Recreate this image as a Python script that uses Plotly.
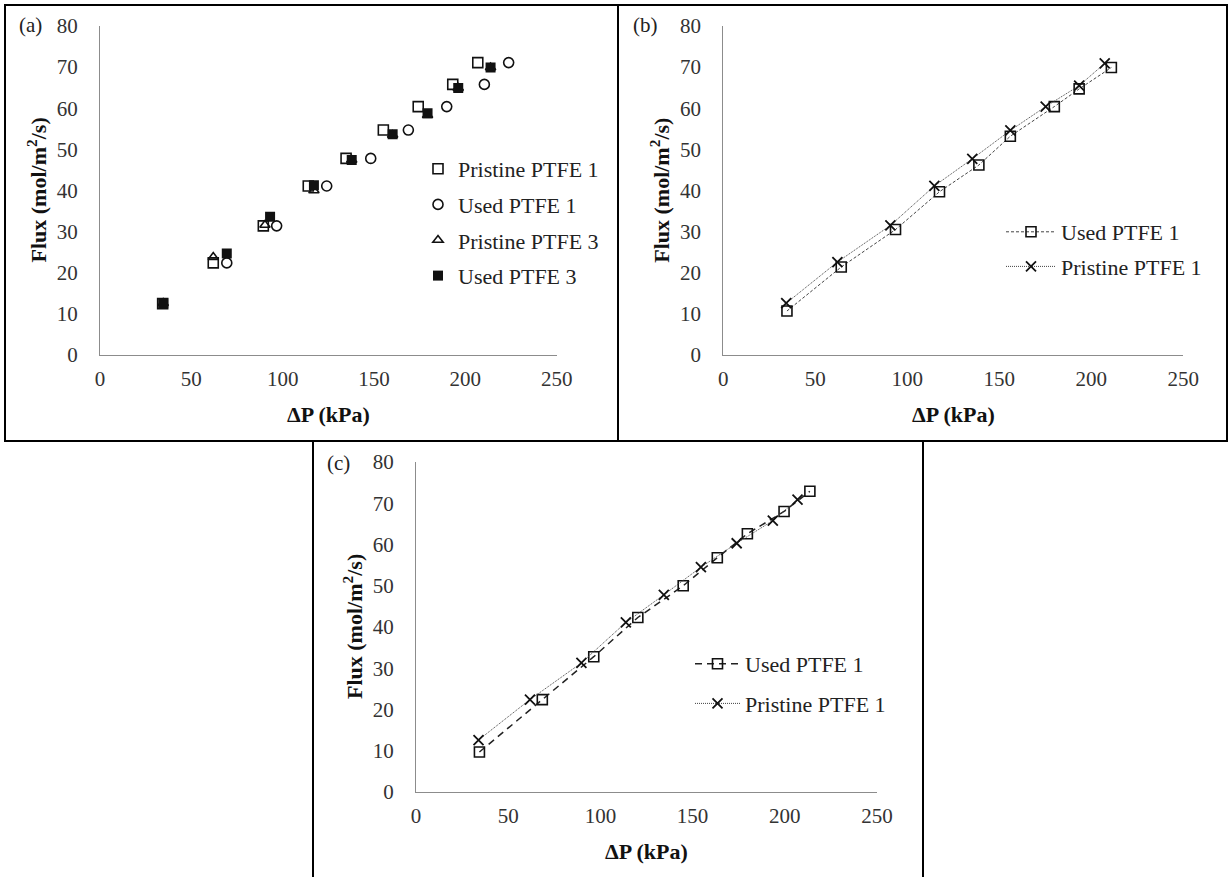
import plotly.graph_objects as go

# ---------------- data ----------------
# Panel (a)
a_p1_x = [34.3, 62.0, 89.4, 114.0, 134.7, 155.1, 174.2, 193.1, 206.8]
a_p1_y = [12.5, 22.4, 31.4, 41.1, 47.8, 54.7, 60.4, 65.8, 71.1]
a_u1_x = [69.4, 96.7, 124.1, 148.2, 168.8, 189.8, 210.4, 223.7]
a_u1_y = [22.4, 31.4, 41.1, 47.8, 54.7, 60.4, 65.8, 71.1]
a_p3_x = [34.6, 62.0, 90.3, 117.1, 137.8, 160.2, 179.3, 196.1, 213.8]
a_p3_y = [12.6, 23.8, 31.6, 40.0, 47.4, 53.5, 58.3, 64.9, 69.9]
a_u3_x = [34.6, 69.4, 93.1, 117.1, 137.8, 160.2, 179.3, 196.1, 213.8]
a_u3_y = [12.6, 24.7, 33.6, 41.3, 47.4, 53.7, 58.8, 64.9, 69.9]

# Panel (b)
b_u1_x = [34.6, 64.1, 93.6, 117.5, 138.9, 156.0, 179.9, 193.4, 210.9]
b_u1_y = [10.7, 21.4, 30.5, 39.7, 46.2, 53.2, 60.4, 64.7, 69.9]
b_p1_x = [34.2, 62.0, 90.8, 114.7, 135.3, 156.0, 175.2, 193.4, 207.3]
b_p1_y = [12.6, 22.6, 31.5, 41.1, 47.7, 54.6, 60.4, 65.5, 70.9]

# Panel (c)
c_u1_x = [34.4, 68.5, 96.4, 120.3, 144.9, 163.4, 179.7, 199.6, 213.6]
c_u1_y = [9.7, 22.4, 32.8, 42.3, 50.0, 56.8, 62.6, 68.0, 72.9]
c_p1_x = [33.9, 61.8, 89.7, 113.8, 134.4, 154.5, 173.9, 193.5, 206.9]
c_p1_y = [12.6, 22.4, 31.3, 41.1, 47.8, 54.5, 60.3, 65.8, 70.9]

x_ticks = [0, 50, 100, 150, 200, 250]
y_ticks = [0, 10, 20, 30, 40, 50, 60, 70, 80]
x_title = "<b>ΔP (kPa)</b>"
y_title = "<b>Flux (mol/m<sup>2</sup>/s)</b>"
panel_labels = ["(a)", "(b)", "(c)"]

# ---------------- figure ----------------
W, H = 1231, 877
FONT = "Times New Roman"
MK = "#111111"
LN = "#444444"

fig = go.Figure()

def px(x):
    return x / W

def py(y):
    return 1 - y / H

# Panel (a) traces
fig.add_trace(go.Scatter(x=a_p1_x, y=a_p1_y, mode="markers", name="Pristine PTFE 1",
                         marker=dict(symbol="square-open", size=10, color=MK, line=dict(width=1.6)),
                         xaxis="x", yaxis="y", legend="legend", legendgroup="a1"))
fig.add_trace(go.Scatter(x=a_u1_x, y=a_u1_y, mode="markers", name="Used PTFE 1",
                         marker=dict(symbol="circle-open", size=10, color=MK, line=dict(width=1.6)),
                         xaxis="x", yaxis="y", legend="legend", legendgroup="a2"))
fig.add_trace(go.Scatter(x=a_p3_x, y=a_p3_y, mode="markers", name="Pristine PTFE 3",
                         marker=dict(symbol="triangle-up-open", size=9, color=MK, line=dict(width=1.6)),
                         xaxis="x", yaxis="y", legend="legend", legendgroup="a3"))
fig.add_trace(go.Scatter(x=a_u3_x, y=a_u3_y, mode="markers", name="Used PTFE 3",
                         marker=dict(symbol="square", size=10, color=MK, line=dict(width=0)),
                         xaxis="x", yaxis="y", legend="legend", legendgroup="a4"))

# Panel (b) traces
fig.add_trace(go.Scatter(x=b_u1_x, y=b_u1_y, mode="lines+markers", name="Used PTFE 1",
                         line=dict(color=LN, width=1, dash="3px,2px"),
                         marker=dict(symbol="square-open", size=10, color=MK, line=dict(width=1.6)),
                         xaxis="x2", yaxis="y2", legend="legend2", legendgroup="b1"))
fig.add_trace(go.Scatter(x=b_p1_x, y=b_p1_y, mode="lines+markers", name="Pristine PTFE 1",
                         line=dict(color=LN, width=1, dash="1px,1px"),
                         marker=dict(symbol="x-thin-open", size=10, color=MK, line=dict(width=1.8, color=MK)),
                         xaxis="x2", yaxis="y2", legend="legend2", legendgroup="b2"))

# Panel (c) traces
fig.add_trace(go.Scatter(x=c_u1_x, y=c_u1_y, mode="lines+markers", name="Used PTFE 1",
                         line=dict(color="#222222", width=1.5, dash="7px,5px"),
                         marker=dict(symbol="square-open", size=10, color=MK, line=dict(width=1.6)),
                         xaxis="x3", yaxis="y3", legend="legend3", legendgroup="c1"))
fig.add_trace(go.Scatter(x=c_p1_x, y=c_p1_y, mode="lines+markers", name="Pristine PTFE 1",
                         line=dict(color=LN, width=1, dash="1px,1px"),
                         marker=dict(symbol="x-thin-open", size=10, color=MK, line=dict(width=1.8, color=MK)),
                         xaxis="x3", yaxis="y3", legend="legend3", legendgroup="c2"))

# axes
def xax(domain, anchor):
    return dict(domain=domain, anchor=anchor, range=[0, 250], tickvals=x_ticks,
                showline=True, linecolor="#8c8c8c", linewidth=1, showgrid=False, zeroline=False,
                ticks="", ticklabelstandoff=5, tickfont=dict(family=FONT, size=21, color="#333333"),
                fixedrange=True, automargin=False)

def yax(domain, anchor):
    return dict(domain=domain, anchor=anchor, range=[0, 80], tickvals=y_ticks,
                showline=True, linecolor="#8c8c8c", linewidth=1, showgrid=False, zeroline=False,
                ticks="", ticklabelstandoff=17, tickfont=dict(family=FONT, size=21, color="#333333"),
                fixedrange=True, automargin=False)

# pixel geometry (page pixels) of the three plot areas
A = dict(x0=100, x1=556.7, y0=26, y1=355)
B = dict(x0=723.3, x1=1183.3, y0=26, y1=355)
C = dict(x0=416, x1=877, y0=462, y1=792)

fig.update_layout(
    xaxis=xax([px(A["x0"]), px(A["x1"])], "y"),
    yaxis=yax([py(A["y1"]), py(A["y0"])], "x"),
    xaxis2=xax([px(B["x0"]), px(B["x1"])], "y2"),
    yaxis2=yax([py(B["y1"]), py(B["y0"])], "x2"),
    xaxis3=xax([px(C["x0"]), px(C["x1"])], "y3"),
    yaxis3=yax([py(C["y1"]), py(C["y0"])], "x3"),
)

legend_common = dict(font=dict(family=FONT, size=22, color="#222222"), bgcolor="rgba(0,0,0,0)",
                     borderwidth=0, xanchor="left", yanchor="top", traceorder="grouped",
                     itemclick=False, itemdoubleclick=False)
fig.update_layout(
    legend=dict(x=px(418), y=py(148), tracegroupgap=4, **legend_common),
    legend2=dict(x=px(1001), y=py(211), tracegroupgap=3, itemwidth=50, **legend_common),
    legend3=dict(x=px(690), y=py(643), tracegroupgap=8, itemwidth=45, **legend_common),
)

annotations = []
for P in (A, B, C):
    annotations.append(dict(text=x_title, x=px((P["x0"] + P["x1"]) / 2), y=py(P["y1"] + 59),
                            xref="paper", yref="paper", showarrow=False, xanchor="center", yanchor="middle",
                            font=dict(family=FONT, size=22, color="#111111")))
    annotations.append(dict(text=y_title, x=px(P["x0"] - 63), y=py((P["y0"] + P["y1"]) / 2),
                            xref="paper", yref="paper", showarrow=False, textangle=-90,
                            xanchor="center", yanchor="middle",
                            font=dict(family=FONT, size=22, color="#111111")))
for lab, (lx, ly) in zip(panel_labels, [(30, 25), (645, 25), (338, 463)]):
    annotations.append(dict(text=lab, x=px(lx), y=py(ly), xref="paper", yref="paper", showarrow=False,
                            xanchor="center", yanchor="middle",
                            font=dict(family=FONT, size=21, color="#222222")))

shapes = [
    dict(type="rect", xref="paper", yref="paper", x0=px(5), x1=px(1227), y0=py(441), y1=py(5),
         line=dict(color="black", width=2)),
    dict(type="line", xref="paper", yref="paper", x0=px(618), x1=px(618), y0=py(441), y1=py(5),
         line=dict(color="black", width=2)),
    dict(type="line", xref="paper", yref="paper", x0=px(313), x1=px(313), y0=0, y1=py(441),
         line=dict(color="black", width=2)),
    dict(type="line", xref="paper", yref="paper", x0=px(923), x1=px(923), y0=0, y1=py(441),
         line=dict(color="black", width=2)),
]

fig.update_layout(
    width=W, height=H, margin=dict(l=0, r=0, t=0, b=0),
    paper_bgcolor="white", plot_bgcolor="white",
    annotations=annotations, shapes=shapes, showlegend=True,
)

pin_page = (
    "var gd=document.getElementById('{plot_id}');"
    "gd.style.position='fixed';gd.style.left='0px';gd.style.top='0px';"
    "document.body.style.margin='0';"
    "document.documentElement.style.overflow='hidden';document.body.style.overflow='hidden';"
)
fig.write_html("out.html", config={"displayModeBar": False}, post_script=pin_page)
